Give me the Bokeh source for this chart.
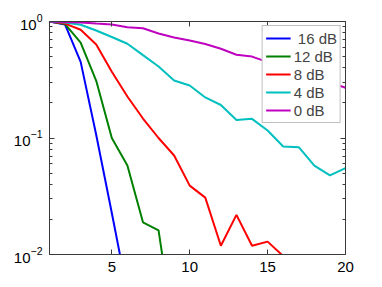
from bokeh.plotting import figure
from bokeh.models import (Range1d, LinearAxis, LogAxis, FixedTicker,
                          LogTickFormatter, CustomJSTickFormatter,
                          Legend, LegendItem)
from bokeh.embed import file_html
from bokeh.resources import INLINE

nan = float("nan")

# x: index 1..20
x = list(range(1, 21))
x_ticks = [5, 10, 15, 20]
y_ticks = [0.01, 0.1, 1.0]
y_minor = [0.02, 0.03, 0.04, 0.05, 0.06, 0.07, 0.08, 0.09,
           0.2, 0.3, 0.4, 0.5, 0.6, 0.7, 0.8, 0.9]

labels = ["\u00a016 dB", "12 dB", "8 dB", "4 dB", "0 dB"]
colors = ["#0000ff", "#008000", "#ff0000", "#00bfbf", "#bf00bf"]

y_16dB = [1.0, 0.94, 0.45, 0.106, 0.0227, 0.0047, nan, nan, nan, nan,
          nan, nan, nan, nan, nan, nan, nan, nan, nan, nan]
y_12dB = [1.0, 0.95, 0.66, 0.31, 0.10, 0.058, 0.0189, 0.0161, 0.0021, nan,
          nan, nan, nan, nan, nan, nan, nan, nan, nan, nan]
y_8dB = [1.0, 0.96, 0.85, 0.635, 0.37, 0.227, 0.147, 0.10, 0.0708, 0.039,
         0.0308, 0.0119, 0.0219, 0.0119, 0.0129, 0.0097, nan, nan, nan, nan]
y_4dB = [1.0, 0.98, 0.937, 0.837, 0.736, 0.644, 0.514, 0.411, 0.312, 0.282,
         0.223, 0.192, 0.143, 0.146, 0.116, 0.0845, 0.0834, 0.058, 0.0477, 0.0552]
y_0dB = [1.0, 0.99, 0.98, 0.96, 0.943, 0.894, 0.876, 0.789, 0.729, 0.687,
         0.641, 0.583, 0.518, 0.50, 0.448, 0.41, 0.37, 0.33, 0.30, 0.27]

series = [y_16dB, y_12dB, y_8dB, y_4dB, y_0dB]

FONT = "Liberation Sans"
AX = "#3a3a3a"

p = figure(width=374, height=279, y_axis_type="log",
           x_range=Range1d(1, 20), y_range=Range1d(0.01, 1),
           output_backend="svg", toolbar_location=None,
           min_border_left=49, min_border_right=29,
           min_border_top=21, min_border_bottom=25)
p.xgrid.visible = False
p.ygrid.visible = False
p.outline_line_color = AX
p.background_fill_color = "white"
p.border_fill_color = "white"

renderers = []
for ys, c in zip(series, colors):
    r = p.line(x, ys, line_color=c, line_width=2)
    renderers.append(r)


def style(ax, show_labels=True):
    ax.axis_line_color = AX
    ax.major_tick_line_color = AX
    ax.minor_tick_line_color = AX
    ax.major_tick_in = 5
    ax.major_tick_out = 0
    ax.minor_tick_in = 3
    ax.minor_tick_out = 0
    ax.major_label_text_font = FONT
    ax.major_label_text_color = "black"
    if show_labels:
        ax.major_label_text_font_size = "15px"
    else:
        ax.formatter = CustomJSTickFormatter(code="return '';")
        ax.major_label_text_font_size = "1px"
        ax.major_label_standoff = 0


xb = p.xaxis[0]
xb.ticker = FixedTicker(ticks=x_ticks, minor_ticks=[])
style(xb)
xb.major_label_standoff = 7

yl = p.yaxis[0]
yl.ticker = FixedTicker(ticks=y_ticks, minor_ticks=y_minor)
yl.formatter = LogTickFormatter()
style(yl)
yl.major_label_standoff = 7

xt = LinearAxis(ticker=FixedTicker(ticks=x_ticks, minor_ticks=[]))
style(xt, False)
p.add_layout(xt, "above")

yr = LogAxis(ticker=FixedTicker(ticks=y_ticks, minor_ticks=y_minor))
style(yr, False)
p.add_layout(yr, "right")

legend = Legend(items=[LegendItem(label=l, renderers=[r]) for l, r in zip(labels, renderers)],
                location="top_right", margin=4, padding=3, spacing=0,
                label_height=18, glyph_height=18, glyph_width=25,
                label_standoff=3, label_text_font_size="15px",
                label_text_font=FONT, border_line_color="#808080",
                background_fill_alpha=1.0)
p.add_layout(legend)

open("out.html", "w").write(file_html(p, INLINE))
